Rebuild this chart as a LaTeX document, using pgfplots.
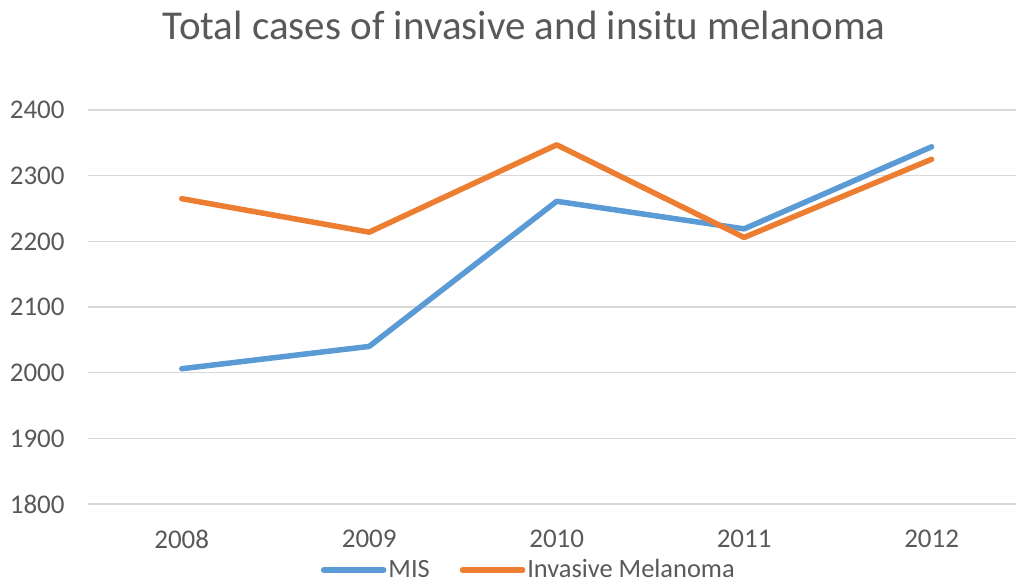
\documentclass[border=0pt]{standalone}
\usepackage{fontspec}
\setmainfont{Carlito}
\usepackage{pgfplots}
\pgfplotsset{compat=1.18}

\definecolor{misblue}{HTML}{5B9BD5}
\definecolor{invorange}{HTML}{ED7D31}
\definecolor{txtgray}{HTML}{595959}
\definecolor{gridgray}{HTML}{D9D9D9}

\begin{document}
\begin{tikzpicture}
\useasboundingbox (-44pt,-40.5pt) rectangle (464pt,252pt);
\clip (-44pt,-40.5pt) rectangle (464pt,252pt);
\begin{axis}[
  scale only axis,
  width=464pt, height=197pt,
  xmin=-0.5, xmax=4.45,
  ymin=1800, ymax=2400,
  xtick={0,1,2,3,4},
  xticklabels={2008,2009,2010,2011,2012},
  ytick={1800,1900,2000,2100,2200,2300,2400},
  /pgf/number format/assume math mode=true,
  yticklabel={\pgfmathprintnumber[fixed,1000 sep={}]{\tick}},
  major tick length=0pt,
  axis line style={draw=none},
  xmajorgrids=false,
  ymajorgrids=true,
  grid style={gridgray, line width=0.8pt},
  tick label style={font=\fontsize{13.5pt}{16pt}\selectfont, text=txtgray, inner sep=0pt},
  yticklabel style={anchor=east, xshift=-11.5pt},
  xticklabel style={anchor=north, yshift=-13pt},
  title={Total cases of invasive and insitu melanoma},
  title style={at={(0.47,1)}, anchor=base, yshift=29.5pt, inner sep=0pt,
    font=\fontsize{20.5pt}{24pt}\selectfont, text=txtgray},
  legend columns=2,
  legend style={at={(0.475,0)}, anchor=center, yshift=-33pt,
    draw=none, fill=none, inner sep=0pt,
    font=\fontsize{13.2pt}{16pt}\selectfont, text=txtgray,
    /tikz/every even column/.append style={column sep=14pt},
    nodes={inner sep=1pt}},
  legend image code/.code={\draw[#1, line cap=round] (0pt,0pt) -- (30pt,0pt);},
  clip=false,
]
% Melanoma in situ
\addplot[misblue, line width=2.75pt, line cap=round, line join=round] coordinates {
  (0,2006) (1,2040) (2,2261) (3,2219) (4,2344)
};
\addlegendentry{MIS}
% Invasive melanoma
\addplot[invorange, line width=2.75pt, line cap=round, line join=round] coordinates {
  (0,2265) (1,2214) (2,2347) (3,2206) (4,2325)
};
\addlegendentry{Invasive Melanoma}
\end{axis}
\end{tikzpicture}
\end{document}
